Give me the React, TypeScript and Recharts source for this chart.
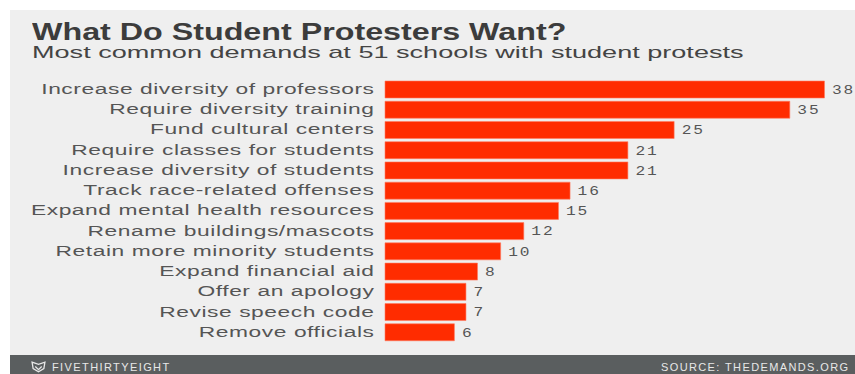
import React from 'react';
import { BarChart, Bar, XAxis, YAxis, LabelList } from 'recharts';

const demands = [
    'Increase diversity of professors',
    'Require diversity training',
    'Fund cultural centers',
    'Require classes for students',
    'Increase diversity of students',
    'Track race-related offenses',
    'Expand mental health resources',
    'Rename buildings/mascots',
    'Retain more minority students',
    'Expand financial aid',
    'Offer an apology',
    'Revise speech code',
    'Remove officials',
];
const schools = [38, 35, 25, 21, 21, 16, 15, 12, 10, 8, 7, 7, 6];

const rows = demands.map((demand, i) => ({ demand, schools: schools[i] }));

const SANS = '"Liberation Sans", Arial, sans-serif';

// the whole graphic runs wide, so text gets stretched horizontally
function DemandTick({ x, y, payload }: any) {
    return (
        <text
            transform={`translate(${x - 2.5},${y - 0.5}) scale(1.52,1)`}
            textAnchor="end"
            dy="0.36em"
            fontFamily={SANS}
            fontSize={15}
            letterSpacing={0.37}
            fill="#555"
        >
            {payload.value}
        </text>
    );
}

function ValueLabel({ x, y, width, height, value }: any) {
    return (
        <text
            transform={`translate(${x + width + 7.5},${y + height / 2}) scale(1.35,1)`}
            dy="0.36em"
            fontFamily='"Liberation Mono", monospace'
            fontSize={12}
            letterSpacing={1.4}
            fill="#555"
        >
            {value}
        </text>
    );
}

const stretched = (scale: number): React.CSSProperties => ({
    position: 'absolute',
    whiteSpace: 'nowrap',
    transform: `scaleX(${scale})`,
    transformOrigin: 'left center',
    fontFamily: SANS,
});

const footerText: React.CSSProperties = {
    position: 'absolute',
    top: 360,
    whiteSpace: 'nowrap',
    fontFamily: SANS,
    fontSize: 11,
    lineHeight: '14px',
    color: '#e8e8e8',
};

export default function App() {
    return (
        <div style={{ position: 'absolute', left: 0, top: 0, width: 855, height: 374, background: '#fff', overflow: 'hidden' }}>
            <div style={{ position: 'absolute', left: 10, top: 10, width: 845, height: 364, background: '#efefef' }} />
            <div style={{ ...stretched(1.372), left: 32, top: 18, fontSize: 23.5, lineHeight: '28px', fontWeight: 700, color: '#3c3c3c' }}>
                What Do Student Protesters Want?
            </div>
            <div style={{ ...stretched(1.592), left: 32, top: 41, fontSize: 17, lineHeight: '24px', color: '#444' }}>
                Most common demands at 51 schools with student protests
            </div>

            <div style={{ position: 'absolute', left: 0, top: 0 }}>
                <BarChart
                    width={855}
                    height={374}
                    layout="vertical"
                    data={rows}
                    margin={{ top: 79, right: 30.5, bottom: 32, left: 0 }}
                >
                    <XAxis type="number" domain={[0, 38]} hide />
                    <YAxis
                        type="category"
                        dataKey="demand"
                        width={385}
                        axisLine={false}
                        tickLine={false}
                        interval={0}
                        tick={<DemandTick />}
                    />
                    <Bar dataKey="schools" fill="#ff2c00" stroke="#ff7a60" strokeWidth={0.6} barSize={17} isAnimationActive={false}>
                        <LabelList dataKey="schools" content={<ValueLabel />} />
                    </Bar>
                </BarChart>
            </div>

            <div style={{ position: 'absolute', left: 10, top: 355, width: 845, height: 19, background: '#5a5e5f' }} />
            <svg style={{ position: 'absolute', left: 31, top: 361 }} width={15} height={12} viewBox="0 0 14 11">
                <path d="M1 1 L7 3 L13 1 L12 7 L7 10 L2 7 Z M4 5 L7 8 L10 5" fill="none" stroke="#e8e8e8" strokeWidth={1.2} />
            </svg>
            <div style={{ ...footerText, left: 52, letterSpacing: 1.4 }}>FIVETHIRTYEIGHT</div>
            <div style={{ ...footerText, left: 661, letterSpacing: 1.38 }}>SOURCE: THEDEMANDS.ORG</div>
        </div>
    );
}
